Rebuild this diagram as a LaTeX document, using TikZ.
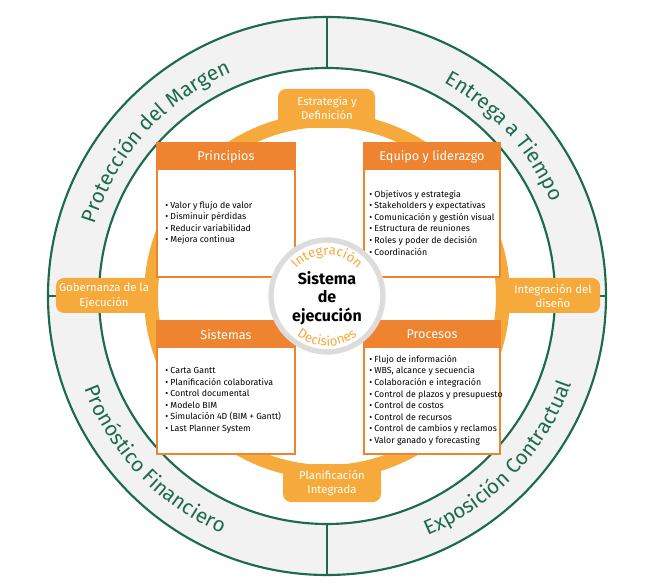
\documentclass[tikz,border=0pt]{standalone}
\usepackage{fontspec}
\setmainfont{Fira Sans}
\newfontfamily\lightf{Fira Sans Light}
\usetikzlibrary{decorations.text}
\definecolor{grn}{HTML}{1B6B4C}
\definecolor{org}{HTML}{EE8430}
\definecolor{lorg}{HTML}{F6AA3C}
\definecolor{rg}{HTML}{F2F2F2}
\definecolor{cg}{HTML}{DDDCDA}
\tikzset{
 box/.style={draw=org,line width=1.2pt,fill=white},
 hdr/.style={fill=org,rounded corners=4pt},
 htxt/.style={text=white,font=\fontsize{9.5}{11}\selectfont},
 ttxt/.style={text=white,font=\fontsize{8.5}{11}\selectfont,align=center},
 itm/.style={anchor=north west,font=\fontsize{6.6}{8.7}\selectfont,align=left,inner sep=0pt},
 tab/.style={fill=lorg,rounded corners=6pt},
 ringtxt/.style={decorate,decoration={text along path,text align=center,
   text={|\fontsize{15.5}{18}\selectfont\color{grn}|#1}}},
}
\begin{document}
\begin{tikzpicture}[x=0.75pt,y=0.75pt]
\useasboundingbox (-327,296) rectangle (322,-292);
% outer ring
\fill[rg,even odd rule] (0,0) circle (279) (0,0) circle (228);
\draw[grn,line width=1.6pt] (0,0) circle (279);
\draw[grn,line width=1.6pt] (0,0) circle (228);
\coordinate (c) at (0,0);
\draw[grn,line width=1.6pt] (0,279) -- (0,228) (0,-279) -- (0,-228) (-279,0) -- (-228,0) (279,0) -- (228,0);
% ring texts
\path[ringtxt={Protección del Margen}] (170:243) arc[start angle=170,end angle=106,radius=243];
\path[ringtxt={Entrega a Tiempo}] (70:243) arc[start angle=70,end angle=14,radius=243];
\path[ringtxt={Pronóstico Financiero}] (190:260) arc[start angle=190,end angle=257,radius=260];
\path[ringtxt={Exposición Contractual}] (283:260) arc[start angle=283,end angle=350,radius=260];
% orange ring
\draw[lorg,line width=10.5pt] (0,0) circle (176);
% tabs
\fill[tab] (-49,207) rectangle (48,168);
\fill[tab] (-44,-168) rectangle (54,-206);
\fill[tab] (-271,18) rectangle (-172,-17);
\fill[tab] (172,18) rectangle (273,-17);
\node[ttxt] (t1) at (0,188) {Estrategia y\\Definición};
\node[ttxt] (t2) at (5,-187) {Planificación\\Integrada};
\node[ttxt] (t3) at (-223,0) {Gobernanza de la\\Ejecución};
\node[ttxt] (t4) at (226,0) {Integración del\\diseño};
% boxes
\foreach \nm/\xa/\xb/\ya/\yb/\yh/\tt in {p/-170/-32/153/19/126/Principios, e/37/173/153/19/126/Equipo y liderazgo, s/-170/-32/-25/-158/-52/Sistemas, r/37/173/-25/-158/-52/Procesos}{
 \draw[box] (\xa,\ya) rectangle (\xb,\yb);
 \fill[hdr] (\xa-0.6,\ya+0.6) rectangle (\xb+0.6,\yh);
 \fill[org] (\xa-0.6,\yh) rectangle (\xb+0.6,\yh+5);
 \node[htxt] (h\nm) at ({(\xa+\xb)/2},{(\ya+\yh)/2}) {\tt};
}
\node[itm] (ip) at (-162,95) {• Valor y flujo de valor\\• Disminuir pérdidas\\• Reducir variabilidad\\• Mejora continua};
\node[itm] (ie) at (42,106) {• Objetivos y estrategia\\• Stakeholders y expectativas\\• Comunicación y gestión visual\\• Estructura de reuniones\\• Roles y poder de decisión\\• Coordinación};
\node[itm] (is) at (-162,-71) {• Carta Gantt\\• Planificación colaborativa\\• Control documental\\• Modelo BIM\\• Simulación 4D (BIM + Gantt)\\• Last Planner System};
\node[itm] (ir) at (42,-59) {• Flujo de información\\• WBS, alcance y secuencia\\• Colaboración e integración\\• Control de plazos y presupuesto\\• Control de costos\\• Control de recursos\\• Control de cambios y reclamos\\• Valor ganado y forecasting};
% center
\draw[cg,line width=4pt,fill=white] (0,0) circle (56);
\node[font=\bfseries\fontsize{12}{14}\selectfont,align=center] (ctr) at (0,-2) {Sistema\\de\\ejecución};
\path[decorate,decoration={text along path,text align=center,text={|\fontsize{10}{12}\selectfont\color{lorg}|Integración}}] (155:41) arc[start angle=155,end angle=25,radius=41];
\path[decorate,decoration={text along path,text align=center,text={|\fontsize{10}{12}\selectfont\color{lorg}|Decisiones}}] (205:50) arc[start angle=205,end angle=335,radius=50];
\end{tikzpicture}
\end{document}
